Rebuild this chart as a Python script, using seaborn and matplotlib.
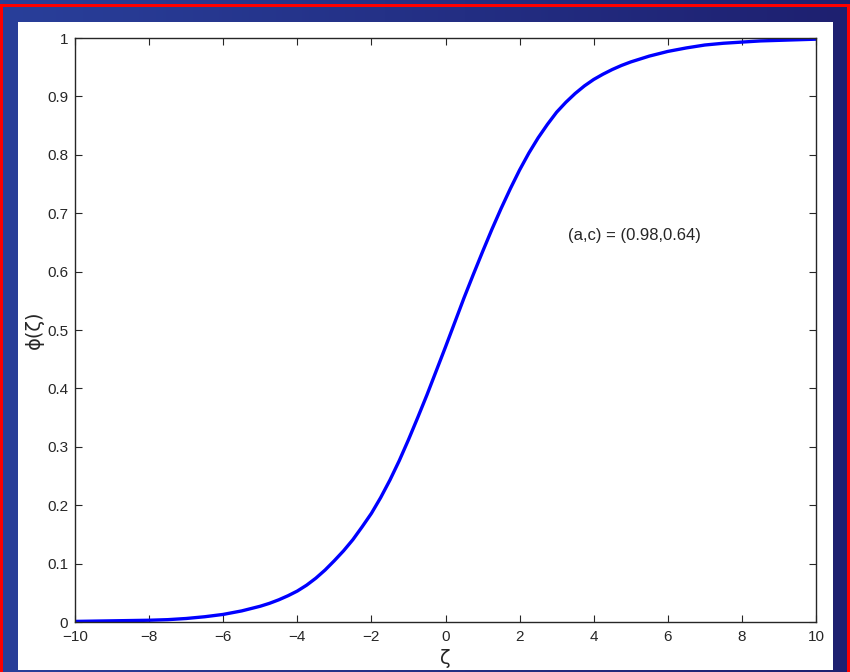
import numpy as np
import pandas as pd
import seaborn as sns
import matplotlib.pyplot as plt
from matplotlib.patches import Rectangle

# values (denser where it bends)
zeta = [-10, -9.5, -9, -8.5, -8, -7.5, -7, -6.75, -6.5, -6.25, -6, -5.75,
        -5.5, -5.25, -5, -4.75, -4.5, -4.25, -4, -3.75, -3.5, -3.25, -3,
        -2.75, -2.5, -2.25, -2, -1.75, -1.5, -1.25, -1, -0.75, -0.5, -0.25,
        0, 0.25, 0.5, 0.75, 1, 1.25, 1.5, 1.75, 2, 2.25, 2.5, 2.75, 3, 3.25,
        3.5, 3.75, 4, 4.25, 4.5, 4.75, 5, 5.25, 5.5, 5.75, 6, 6.5, 7, 7.5, 8,
        8.5, 9, 9.5, 10]
phi = [0.001, 0.0015, 0.002, 0.0025, 0.003, 0.004, 0.006, 0.0075, 0.009,
       0.011, 0.013, 0.016, 0.019, 0.023, 0.027, 0.032, 0.038, 0.045, 0.053,
       0.063, 0.075, 0.089, 0.105, 0.122, 0.141, 0.163, 0.186, 0.213, 0.243,
       0.276, 0.312, 0.350, 0.389, 0.430, 0.471, 0.513, 0.555, 0.595, 0.634,
       0.672, 0.708, 0.742, 0.774, 0.803, 0.829, 0.852, 0.873, 0.890, 0.905,
       0.918, 0.929, 0.938, 0.946, 0.953, 0.959, 0.964, 0.969, 0.973, 0.977,
       0.983, 0.988, 0.991, 0.993, 0.995, 0.996, 0.997, 0.998]
x_ticks = [-10, -8, -6, -4, -2, 0, 2, 4, 6, 8, 10]
y_ticks = [0, 0.1, 0.2, 0.3, 0.4, 0.5, 0.6, 0.7, 0.8, 0.9, 1]
note = "(a,c) = (0.98,0.64)"

if __name__ == "__main__":
    sns.set_style("ticks")
    plt.rcParams["font.family"] = ["Liberation Sans", "DejaVu Sans"]
    plt.rcParams["axes.unicode_minus"] = True

    W, H = 850, 672
    fig = plt.figure(figsize=(W / 100, H / 100), dpi=100)

    # slide background: blue gradient, red edge, white panel
    bg = fig.add_axes([0, 0, 1, 1], zorder=-10)
    grad = np.linspace(0, 1, 256).reshape(1, -1)
    cmap = sns.blend_palette(["#293f9a", "#1e2070"], as_cmap=True)
    bg.imshow(grad, aspect="auto", cmap=cmap, extent=[0, W, H, 0])
    bg.set_xlim(0, W)
    bg.set_ylim(H, 0)
    bg.add_patch(Rectangle((0, 4), 3, H, color="red", lw=0))
    bg.add_patch(Rectangle((0, 4), W, 3, color="red", lw=0))
    bg.add_patch(Rectangle((847, 4), 3, H, color="red", lw=0))
    bg.add_patch(Rectangle((18, 22), 815, 648, color="white", lw=0))
    bg.axis("off")

    ax = fig.add_axes([75 / W, 1 - 622 / H, (816 - 75) / W, (622 - 38) / H])
    df = pd.DataFrame({"zeta": zeta, "phi": phi})
    sns.lineplot(data=df, x="zeta", y="phi", ax=ax, color="#0000ff", lw=2.4,
                 solid_joinstyle="round")

    ax.set_xlim(-10, 10)
    ax.set_ylim(0, 1)
    ax.set_xticks(x_ticks)
    ax.set_yticks(y_ticks)
    ax.set_yticklabels([f"{v:g}" for v in y_ticks])
    ax.tick_params(direction="in", length=5, width=0.8, labelsize=11,
                   top=True, right=True)
    ax.tick_params(axis="x", pad=6)
    ax.tick_params(axis="y", pad=5)
    for s in ax.spines.values():
        s.set_visible(True)
        s.set_linewidth(1.0)
    ax.set_xlabel("ζ", fontsize=14, labelpad=3, family=["DejaVu Sans"])
    ax.set_ylabel("ϕ(ζ)", fontsize=14, labelpad=2, family=["DejaVu Sans"])
    ax.text(3.3, 0.661, note, fontsize=12, va="center", ha="left")

    fig.savefig("out.png", dpi=100)
